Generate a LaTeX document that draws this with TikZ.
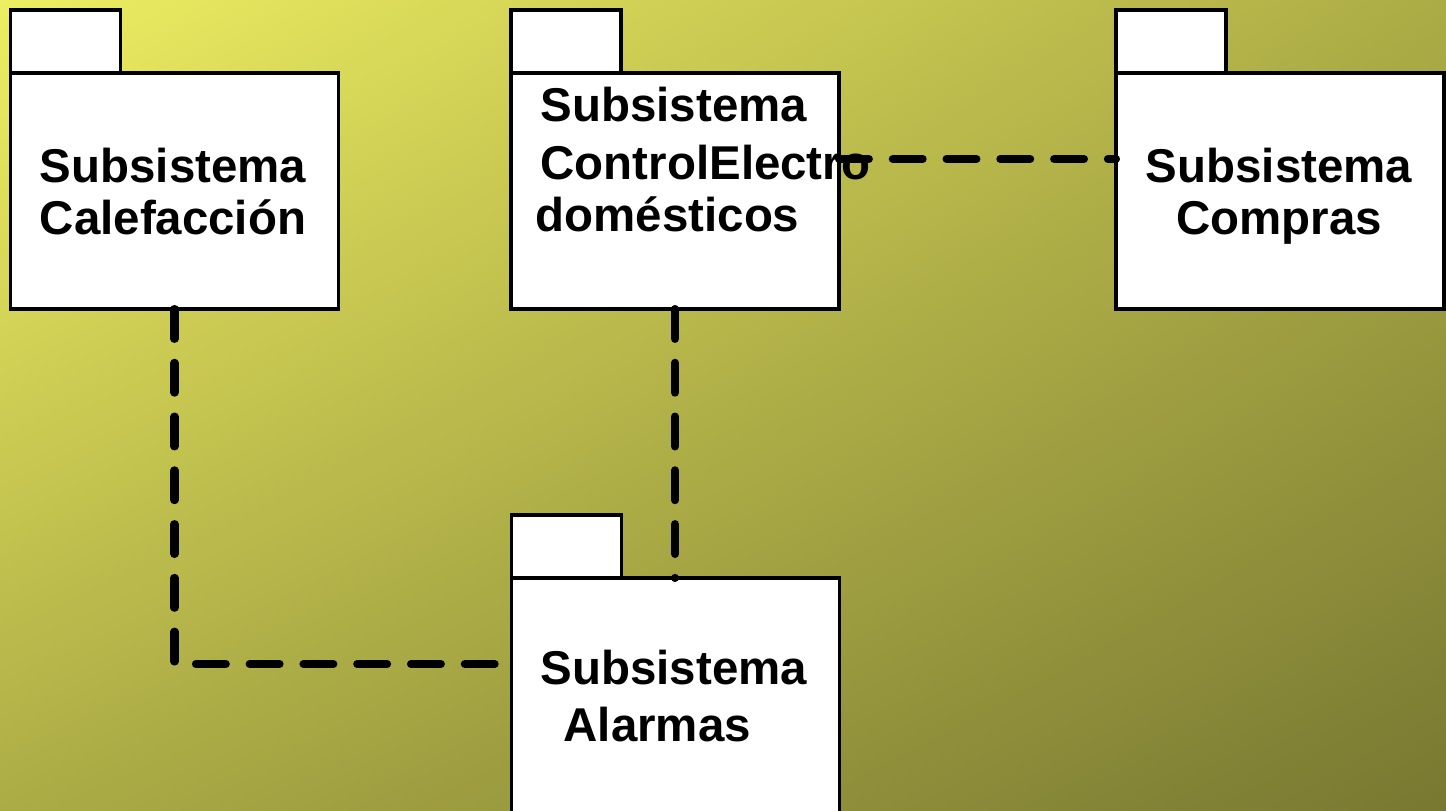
\documentclass[tikz,border=0pt]{standalone}
\usepackage{fontspec}
\setmainfont{Liberation Sans}
\usetikzlibrary{calc,shadings}
\definecolor{bgtl}{RGB}{238,238,98}
\definecolor{bgmid}{RGB}{172,172,70}
\definecolor{bgbr}{RGB}{120,120,50}
\tikzset{
  pkgbody/.style={draw,fill=white,line width=1pt,minimum width=3.28cm,minimum height=2.36cm,inner sep=0pt,outer sep=0pt},
  pkgtab/.style={draw,fill=white,line width=1pt,minimum width=1.10cm,minimum height=0.63cm,inner sep=0pt,outer sep=0pt,anchor=south west},
  pkgtext/.style={inner sep=0pt,font=\fontsize{13.5}{15}\selectfont\bfseries},
  dep/.style={line width=2.3pt,line cap=round,dash pattern=on 8.5pt off 6.8pt}
}
\begin{document}
\begin{tikzpicture}
  \useasboundingbox (0,0) rectangle (14.46,8.10);
  \shade[upper left=bgtl,upper right=bgmid,lower left=bgmid,lower right=bgbr] (0,0) rectangle (14.46,8.10);
  \draw
    (1.745,6.19) node[pkgbody] (calef){}
    (6.75,6.19) node[pkgbody] (ctrl){}
    (12.80,6.19) node[pkgbody] (compras){}
    (6.755,1.14) node[pkgbody] (alarm){};
  \draw
    (calef.north west) node[pkgtab] (calef-tab){}
    (ctrl.north west) node[pkgtab] (ctrl-tab){}
    (compras.north west) node[pkgtab] (compras-tab){}
    (alarm.north west) node[pkgtab] (alarm-tab){};
  \draw
    (1.73,6.63) node[pkgtext,anchor=north,align=center] (calef-text){Subsistema\\Calefacción}
    (5.40,7.24) node[pkgtext,anchor=north west,align=left] (ctrl-text){Subsistema\\[1.5pt]ControlElectro\\\hspace*{-0.05cm}domésticos}
    (12.79,6.63) node[pkgtext,anchor=north,align=center] (compras-text){Subsistema\\Compras}
    (5.40,1.61) node[pkgtext,anchor=north west,align=left] (alarm-text){Subsistema\\[1.2pt]\hspace*{0.23cm}Alarmas};
  \begin{scope}[dep]
    \draw (calef.south) |- ($(alarm.north west)+(0,-0.86)$);
    \draw (ctrl.south) -- (ctrl.south |- alarm.north);
    \draw ($(ctrl.east)+(0,0.32)$) -- ($(compras.west)+(0,0.32)$);
  \end{scope}
\end{tikzpicture}
\end{document}
